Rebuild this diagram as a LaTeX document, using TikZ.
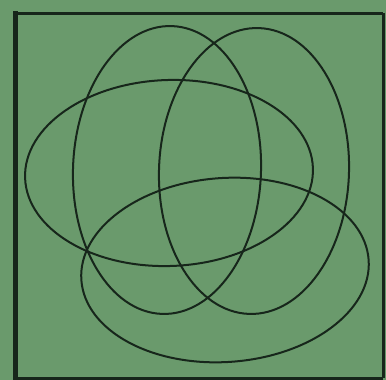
\documentclass[tikz,border=0pt]{standalone}
\usepackage{tikz}
\definecolor{boardgreen}{HTML}{6A9A6C}
\definecolor{chalkdark}{HTML}{17261B}

\begin{document}
\begin{tikzpicture}[
  x=1pt, y=-1pt,
  frame/.style={draw=chalkdark, line width=3pt},
  set line/.style={draw=chalkdark, line width=2pt},
]
  % Board -------------------------------------------------------------------
  \fill[boardgreen] (0,0) rectangle (386,380);
  \useasboundingbox (0,0) rectangle (386,380);
  \draw[frame] (15,13) -- (383,13);
  \draw[frame] (383,13) -- (383,378);
  \draw[frame] (15,378) -- (383,378);
  \draw[draw=chalkdark, line width=5pt] (15,11) -- (15,380);

  % Sets --------------------------------------------------------------------
  \draw[set line, rotate around={-2:(167,170)}] (167,170) ellipse [x radius=94, y radius=144];
  \draw[set line, rotate around={-2:(254,171)}] (254,171) ellipse [x radius=95, y radius=143];
  \draw[set line, rotate around={2:(169,173)}] (169,173) ellipse [x radius=144, y radius=93];
  \draw[set line, rotate around={4:(225,270)}] (225,270) ellipse [x radius=144, y radius=92];
\end{tikzpicture}
\end{document}
